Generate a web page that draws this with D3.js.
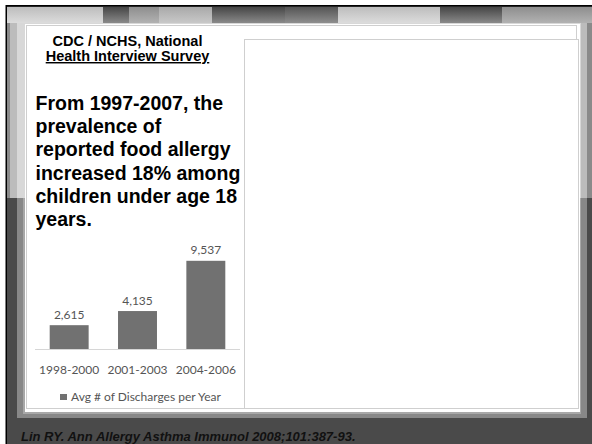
<!DOCTYPE html>
<html>
<head>
<meta charset="utf-8">
<script src="https://cdn.jsdelivr.net/npm/d3@7"></script>
<style>
  body { margin: 0; background: #fff; }
  svg { display: block; }
</style>
</head>
<body>
<svg width="592" height="444"></svg>
<script>
// chart data
var periods = ["1998-2000", "2001-2003", "2004-2006"];
var discharges = [2615, 4135, 9537];
var legendLabel = "Avg # of Discharges per Year";

// slide text
var sourceLines = ["CDC / NCHS, National", "Health Interview Survey"];
var bodyLines = ["From 1997-2007, the", "prevalence of", "reported food allergy",
                 "increased 18% among", "children under age 18", "years."];
var citation = "Lin RY. Ann Allergy Asthma Immunol 2008;101:387-93.";

// top bar blocks of the slide theme: [x0, x1, tone]
var topBlocks = [[103, 129, "dark"], [129, 159, "mid"], [159, 212, "soft"],
                 [212, 285, "dark"], [285, 338, "dark2"], [338, 440, "light"],
                 [440, 502, "dark"], [502, 592, "mid"]];
var tones = {
    light: ["#bdbdbd", "#dcdcdc"],
    soft:  ["#a9a9a9", "#c8c8c8"],
    mid:   ["#8e8e8e", "#b2b2b2"],
    dark:  ["#464646", "#8a8a8a"],
    dark2: ["#555555", "#8e8e8e"]
};

var svg = d3.select("svg");
var defs = svg.append("defs");
Object.keys(tones).forEach(function(k) {
    var g = defs.append("linearGradient").attr("id", "g-" + k)
        .attr("x1", 0).attr("y1", 0).attr("x2", 0).attr("y2", 1);
    g.append("stop").attr("offset", "0%").attr("stop-color", tones[k][0]);
    g.append("stop").attr("offset", "100%").attr("stop-color", tones[k][1]);
});

// slide background
var bg = svg.append("g").attr("class", "slide-bg");
bg.append("rect").attr("x", 6).attr("y", 5).attr("width", 586).attr("height", 439).attr("fill", "#4a4a4a");
// lower frame
bg.append("rect").attr("x", 17).attr("y", 198).attr("width", 570).attr("height", 220).attr("fill", "#888");
bg.append("rect").attr("x", 23).attr("y", 198).attr("width", 558).attr("height", 216).attr("fill", "#a8a8a8");
// upper half
bg.append("rect").attr("x", 7).attr("y", 7).attr("width", 585).attr("height", 191).attr("fill", "#8a8a8a");
bg.append("rect").attr("x", 10).attr("y", 7).attr("width", 577).attr("height", 191).attr("fill", "#bcbcbc");
bg.append("rect").attr("x", 17).attr("y", 7).attr("width", 564).attr("height", 191).attr("fill", "#d8d8d8");
// top bar
bg.append("rect").attr("x", 7).attr("y", 7).attr("width", 585).attr("height", 16).attr("fill", "url(#g-light)");
bg.selectAll("rect.block")
    .data(topBlocks).enter()
    .append("rect").attr("class", "block")
    .attr("x", function(d) { return d[0]; })
    .attr("y", 7)
    .attr("width", function(d) { return d[1] - d[0]; })
    .attr("height", 16)
    .attr("fill", function(d) { return "url(#g-" + d[2] + ")"; });
// black edge
bg.append("line").attr("x1", 6).attr("x2", 592).attr("y1", 5.75).attr("y2", 5.75).attr("stroke", "#000").attr("stroke-width", 1.5);
bg.append("line").attr("x1", 6.25).attr("x2", 6.25).attr("y1", 5).attr("y2", 444).attr("stroke", "#000").attr("stroke-width", 1.5);

// white content panel
bg.append("rect").attr("x", 25).attr("y", 24).attr("width", 555).attr("height", 388).attr("fill", "#fff");
bg.append("rect").attr("x", 26.5).attr("y", 25.5).attr("width", 550).attr("height", 383)
    .attr("fill", "none").attr("stroke", "#cfcfcf");
bg.append("rect").attr("x", 244.5).attr("y", 39.5).attr("width", 334).attr("height", 369)
    .attr("fill", "#fff").attr("stroke", "#cfcfcf");

// source heading
svg.append("g")
    .selectAll("text")
    .data(sourceLines).enter()
    .append("text")
    .attr("x", 127.5)
    .attr("y", function(d, i) { return 46 + i * 15; })
    .attr("text-anchor", "middle")
    .style("font-family", "'Liberation Sans', Arial, sans-serif")
    .style("font-weight", "bold")
    .style("font-size", "14.5px")
    .style("text-decoration", function(d, i) { return i === 1 ? "underline" : null; })
    .attr("fill", "#000")
    .text(function(d) { return d; });

// body text
svg.append("g")
    .selectAll("text")
    .data(bodyLines).enter()
    .append("text")
    .attr("x", 35.5)
    .attr("y", function(d, i) { return 110 + i * 23.2; })
    .style("font-family", "'Liberation Sans', Arial, sans-serif")
    .style("font-weight", "bold")
    .style("font-size", "19.5px")
    .attr("fill", "#000")
    .text(function(d) { return d; });

// bar chart
var barColor = "#717171";
var labelFont = "Lato, 'Open Sans', sans-serif";
var labelSize = "12px";

var x = d3.scaleBand()
    .domain(periods)
    .range([35, 240])
    .paddingInner(0.43)
    .paddingOuter(0.215);

var y = d3.scaleLinear()
    .domain([0, 10000])
    .range([349.5, 256.5]);

var chart = svg.append("g").attr("class", "chart");

chart.selectAll("rect.bar")
    .data(discharges).enter()
    .append("rect").attr("class", "bar")
    .attr("x", function(d, i) { return x(periods[i]); })
    .attr("y", function(d) { return y(d); })
    .attr("width", x.bandwidth())
    .attr("height", function(d) { return y(0) - y(d); })
    .attr("fill", barColor);

chart.selectAll("text.value")
    .data(discharges).enter()
    .append("text").attr("class", "value")
    .attr("x", function(d, i) { return x(periods[i]) + x.bandwidth() / 2; })
    .attr("y", function(d) { return y(d) - 6.5; })
    .attr("text-anchor", "middle")
    .style("font-family", labelFont)
    .style("font-size", labelSize)
    .attr("fill", "#555")
    .text(d3.format(","));

var xAxis = chart.append("g")
    .attr("transform", "translate(0," + y(0) + ")")
    .call(d3.axisBottom(x).tickSize(0).tickPadding(16));
xAxis.select(".domain").attr("stroke", "#d6d6d6").attr("d", "M35,0H240");
xAxis.selectAll("text")
    .style("font-family", labelFont)
    .style("font-size", labelSize)
    .attr("fill", "#555");

// legend
var legend = chart.append("g").attr("transform", "translate(60,394)");
legend.append("rect").attr("width", 7).attr("height", 6).attr("fill", barColor);
legend.append("text")
    .attr("x", 11).attr("y", 7)
    .style("font-family", labelFont)
    .style("font-size", labelSize)
    .attr("fill", "#555")
    .text(legendLabel);

// citation
svg.append("text")
    .attr("x", 21).attr("y", 441)
    .style("font-family", "'Liberation Sans', Arial, sans-serif")
    .style("font-weight", "bold")
    .style("font-style", "italic")
    .style("font-size", "13px")
    .attr("fill", "#111")
    .text(citation);
</script>
</body>
</html>
